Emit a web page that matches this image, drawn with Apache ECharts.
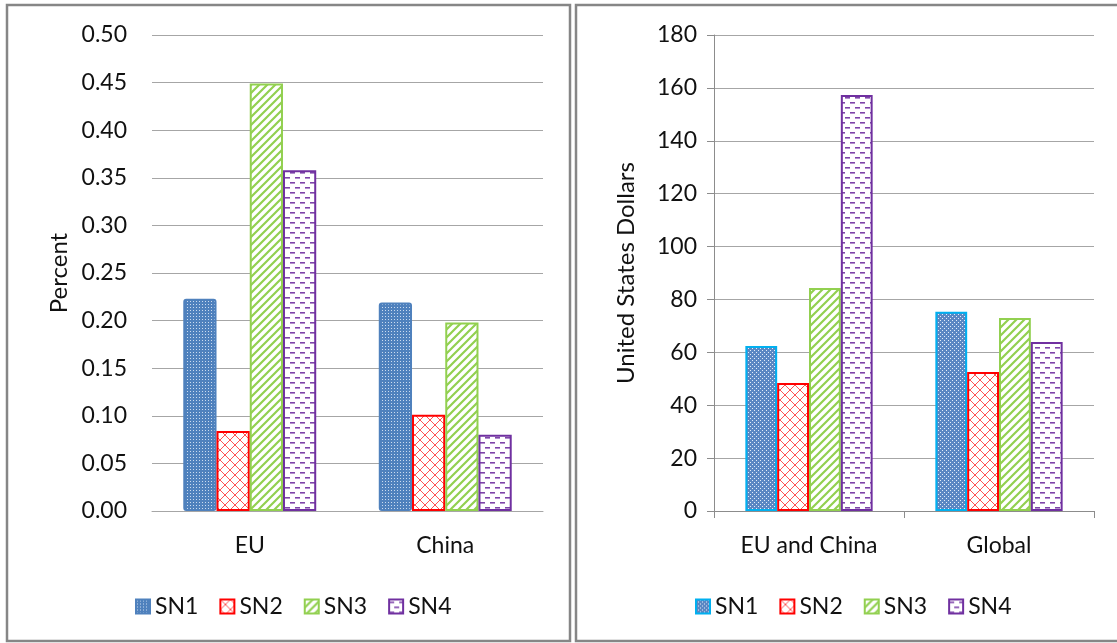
<!DOCTYPE html>
<html>
<head>
<meta charset="utf-8">
<script src="https://cdn.jsdelivr.net/npm/echarts@6/dist/echarts.min.js"></script>
<style>
  html, body { margin: 0; padding: 0; background: #fff; }
  #chart { width: 1117px; height: 643px; }
</style>
</head>
<body>
<div id="chart"></div>
<script>
// Left panel: share (percent) by region
const leftCategories = ['EU', 'China'];
const leftSN1 = [0.223, 0.219];
const leftSN2 = [0.084, 0.101];
const leftSN3 = [0.449, 0.198];
const leftSN4 = [0.358, 0.080];

// Right panel: value in US dollars
const rightCategories = ['EU and China', 'Global'];
const rightSN1 = [62.4, 75.3];
const rightSN2 = [48.4, 52.6];
const rightSN3 = [84.3, 73.0];
const rightSN4 = [157.3, 63.9];

const seriesNames = ['SN1', 'SN2', 'SN3', 'SN4'];

// --- fill patterns drawn on small tiles ---
function tile(w, h, draw) {
  const c = document.createElement('canvas');
  c.width = w; c.height = h;
  const ctx = c.getContext('2d');
  draw(ctx, w, h);
  return { image: c, repeat: 'repeat' };
}

const dotsBlue = tile(3, 3, (ctx) => {
  ctx.fillStyle = '#4F81BD'; ctx.fillRect(0, 0, 3, 3);
  ctx.fillStyle = 'rgba(225,235,248,0.85)'; ctx.fillRect(1, 1, 1, 1);
});
const checkerBlue = tile(4, 4, (ctx) => {
  ctx.fillStyle = '#5B87C3'; ctx.fillRect(0, 0, 4, 4);
  ctx.fillStyle = 'rgba(235,242,252,0.95)';
  ctx.fillRect(0, 0, 1, 1); ctx.fillRect(2, 2, 1, 1);
});
const lattice = tile(10, 10, (ctx) => {
  ctx.fillStyle = '#fff'; ctx.fillRect(0, 0, 10, 10);
  ctx.strokeStyle = 'rgba(255,40,40,0.8)'; ctx.lineWidth = 1;
  ctx.beginPath();
  ctx.moveTo(0, 0); ctx.lineTo(10, 10);
  ctx.moveTo(10, 0); ctx.lineTo(0, 10);
  ctx.stroke();
});
const stripes = tile(8, 8, (ctx) => {
  ctx.fillStyle = '#fff'; ctx.fillRect(0, 0, 8, 8);
  ctx.strokeStyle = '#92D050'; ctx.lineWidth = 2.2;
  ctx.beginPath();
  ctx.moveTo(-2, 10); ctx.lineTo(10, -2);
  ctx.moveTo(-6, 6); ctx.lineTo(6, -6);
  ctx.moveTo(2, 14); ctx.lineTo(14, 2);
  ctx.stroke();
});
const dashes = tile(10, 10, (ctx) => {
  ctx.fillStyle = '#fff'; ctx.fillRect(0, 0, 10, 10);
  ctx.fillStyle = 'rgba(112,48,160,0.9)';
  ctx.fillRect(0, 2, 5, 1.6);
  ctx.fillRect(5, 7, 5, 1.6);
});

const leftStyles = [
  { color: dotsBlue, borderColor: '#4F81BD', borderWidth: 2, borderRadius: 2 },
  { color: lattice, borderColor: '#FF0000', borderWidth: 2 },
  { color: stripes, borderColor: '#92D050', borderWidth: 2 },
  { color: dashes, borderColor: '#7030A0', borderWidth: 2 }
];
const rightStyles = [
  { color: checkerBlue, borderColor: '#00B0F0', borderWidth: 2 },
  { color: lattice, borderColor: '#FF0000', borderWidth: 2 },
  { color: stripes, borderColor: '#92D050', borderWidth: 2 },
  { color: dashes, borderColor: '#7030A0', borderWidth: 2 }
];

const FONT = 'Lato';
const TEXT = '#111';
const GRID_LINE = '#a6a6a6';
const FS = 23;

const leftData = [leftSN1, leftSN2, leftSN3, leftSN4];
const rightData = [rightSN1, rightSN2, rightSN3, rightSN4];

const series = [];
seriesNames.forEach((n, i) => {
  series.push({
    name: n, type: 'bar', xAxisIndex: 0, yAxisIndex: 0,
    data: leftData[i], itemStyle: leftStyles[i],
    barGap: '0%', barCategoryGap: '32%', animation: false
  });
});
seriesNames.forEach((n, i) => {
  series.push({
    name: n, type: 'bar', xAxisIndex: 1, yAxisIndex: 1,
    data: rightData[i], itemStyle: rightStyles[i],
    barGap: '0%', barCategoryGap: '33%', animation: false
  });
});

const chart = echarts.init(document.getElementById('chart'), null, { renderer: 'canvas' });

const legendText = { fontFamily: FONT, fontSize: FS, color: TEXT };

chart.setOption({
  animation: false,
  textStyle: { fontFamily: FONT },
  graphic: [
    { type: 'rect', shape: { x: 7, y: 5, width: 563, height: 636 },
      style: { fill: 'none', stroke: '#868686', lineWidth: 2.5 }, silent: true },
    { type: 'rect', shape: { x: 576, y: 5, width: 600, height: 636 },
      style: { fill: 'none', stroke: '#868686', lineWidth: 2.5 }, silent: true }
  ],
  grid: [
    { left: 152, right: 574, top: 35, bottom: 132 },
    { left: 714, right: 23, top: 35, bottom: 132 }
  ],
  legend: [
    {
      left: 130, top: 590, itemWidth: 14, itemHeight: 14, itemGap: 21,
      icon: 'rect', textStyle: legendText,
      data: seriesNames.map((n, i) => ({ name: n, itemStyle: leftStyles[i] })),
      selectedMode: false
    },
    {
      left: 690, top: 590, itemWidth: 14, itemHeight: 14, itemGap: 21,
      icon: 'rect', textStyle: legendText,
      data: seriesNames.map((n, i) => ({ name: n, itemStyle: rightStyles[i] })),
      selectedMode: false
    }
  ],
  xAxis: [
    {
      type: 'category', gridIndex: 0, data: leftCategories,
      axisLine: { lineStyle: { color: GRID_LINE, width: 1 } },
      axisTick: { show: false },
      axisLabel: { fontFamily: FONT, fontSize: FS, color: TEXT, margin: 23 }
    },
    {
      type: 'category', gridIndex: 1, data: rightCategories,
      axisLine: { lineStyle: { color: '#8c8c8c', width: 1 } },
      axisTick: { show: true, length: 7, lineStyle: { color: '#8c8c8c' } },
      axisLabel: { fontFamily: FONT, fontSize: FS, color: TEXT, margin: 23 }
    }
  ],
  yAxis: [
    {
      type: 'value', gridIndex: 0, min: 0, max: 0.5, interval: 0.05,
      name: 'Percent', nameLocation: 'middle', nameGap: 81,
      nameTextStyle: { fontFamily: FONT, fontSize: 24, color: TEXT },
      axisLine: { show: false }, axisTick: { show: false },
      splitLine: { lineStyle: { color: GRID_LINE, width: 1 } },
      axisLabel: { fontFamily: FONT, fontSize: FS, color: TEXT, margin: 25,
                   formatter: (v) => v.toFixed(2) }
    },
    {
      type: 'value', gridIndex: 1, min: 0, max: 180, interval: 20,
      name: 'United States Dollars', nameLocation: 'middle', nameGap: 76,
      nameTextStyle: { fontFamily: FONT, fontSize: 24, color: TEXT },
      axisLine: { show: true, lineStyle: { color: '#8c8c8c', width: 1 } },
      axisTick: { show: true, length: 7, lineStyle: { color: '#8c8c8c' } },
      splitLine: { lineStyle: { color: GRID_LINE, width: 1 } },
      axisLabel: { fontFamily: FONT, fontSize: FS, color: TEXT, margin: 17 }
    }
  ],
  series: series
});
</script>
</body>
</html>
